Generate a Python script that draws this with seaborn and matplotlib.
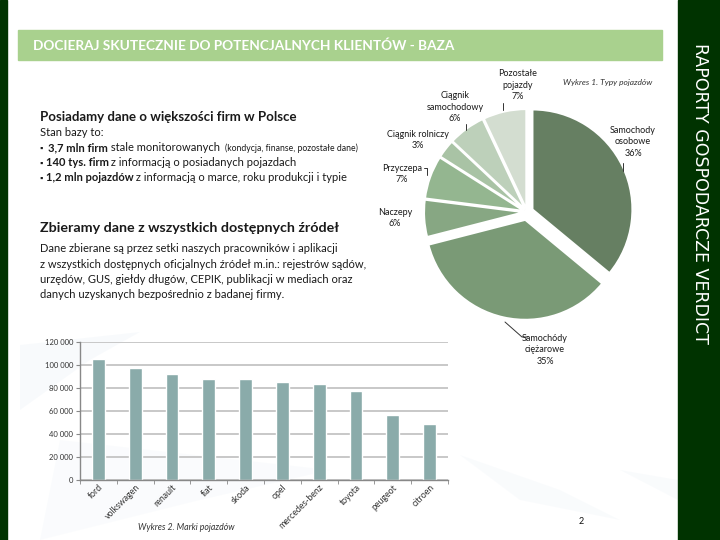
import matplotlib
matplotlib.use("Agg")
import matplotlib.pyplot as plt
import seaborn as sns
import pandas as pd
from matplotlib.patches import Rectangle, Polygon
from matplotlib.lines import Line2D
from matplotlib.ticker import FuncFormatter

# --- data -------------------------------------------------------------
vehicle_types = ["Samochody\nosobowe", "Samochódy\nciężarowe", "Naczepy", "Przyczepa",
                 "Ciągnik rolniczy", "Ciągnik\nsamochodowy", "Pozostałe\npojazdy"]
vehicle_shares = [36, 35, 6, 7, 3, 6, 7]
pie_colors = ["#667f62", "#7a9a76", "#87a783", "#94b690", "#a9c3a5", "#bdd0ba", "#d3ddd0"]

brands = ["ford", "volkswagen", "renault", "fiat", "skoda", "opel",
          "mercedes-benz", "toyota", "peugeot", "citroen"]
brand_counts = [105400, 97500, 92300, 87900, 87900, 85500, 83500, 77400, 56400, 48500]

W, H = 720, 540
FONT = ["Lato", "DejaVu Sans"]

sns.set_style("white")
plt.rcParams["font.family"] = FONT

fig = plt.figure(figsize=(7.2, 5.4), dpi=100)
fig.patch.set_facecolor("white")


def fx(x):
    return x / W


def fy(y):
    return 1 - y / H


def box(x0, y0, x1, y1):
    return [fx(x0), fy(y1), (x1 - x0) / W, (y1 - y0) / H]


# faint background swooshes of the slide template
for pts, a in [([(20, 345), (140, 332), (90, 360), (20, 410)], 0.07),
               ([(60, 440), (330, 470), (200, 500), (40, 540)], 0.05),
               ([(460, 455), (560, 490), (620, 520), (520, 500)], 0.06),
               ([(620, 470), (678, 480), (678, 500)], 0.06)]:
    fig.add_artist(Polygon([(fx(x), fy(y)) for x, y in pts], closed=True,
                           transform=fig.transFigure, color="#a8c0dc", alpha=a,
                           linewidth=0, zorder=0))

# frame strips and header
fig.add_artist(Rectangle((0, 0), fx(7), 1, transform=fig.transFigure, color="#003300", zorder=0))
fig.add_artist(Rectangle((fx(678), 0), 1 - fx(678), 1, transform=fig.transFigure, color="#003300", zorder=0))
fig.add_artist(Rectangle((fx(18), fy(60)), fx(662) - fx(18), fy(30) - fy(60),
                         transform=fig.transFigure, color="#a9d18e", zorder=0))
fig.text(fx(33), fy(46), "DOCIERAJ SKUTECZNIE DO POTENCJALNYCH KLIENTÓW - BAZA",
         color="white", fontsize=9.8, fontweight="bold", va="center")
fig.text(fx(700), fy(193), "RAPORTY GOSPODARCZE VERDICT", color="white", fontsize=12.5,
         rotation=-90, ha="center", va="center", family="DejaVu Sans")

renderer = fig.canvas.get_renderer()


def runs(x, y, parts):
    for s, weight, size in parts:
        t = fig.text(fx(x), fy(y), s, fontsize=size, fontweight=weight, color="#1a1a1a", va="baseline")
        x += t.get_window_extent(renderer).width


# left text block
runs(40, 121, [("Posiadamy dane o większości firm w Polsce", "bold", 9.5)])
runs(40, 136, [("Stan bazy to:", "normal", 8)])
runs(40, 151, [("▪  ", "normal", 6), ("3,7 mln firm", "bold", 8), (" stale monitorowanych  ", "normal", 8),
               ("(kondycja, finanse, pozostałe dane)", "normal", 6.2)])
runs(40, 166, [("▪ ", "normal", 6), ("140 tys. firm", "bold", 8),
               (" z informacją o posiadanych pojazdach", "normal", 8)])
runs(40, 181, [("▪ ", "normal", 6), ("1,2 mln pojazdów", "bold", 8),
               (" z informacją o marce, roku produkcji i typie", "normal", 8)])

runs(40, 232, [("Zbieramy dane z wszystkich dostępnych źródeł", "bold", 10.3)])
para = ["Dane zbierane są przez setki naszych pracowników i aplikacji",
        "z wszystkich dostępnych oficjalnych źródeł m.in.: rejestrów sądów,",
        "urzędów, GUS, giełdy długów, CEPIK, publikacji w mediach oraz",
        "danych uzyskanych bezpośrednio z badanej firmy."]
for i, line in enumerate(para):
    runs(40, 252 + i * 15.5, [(line, "normal", 8)])

# --- pie chart ---------------------------------------------------------
cx, cy, r = 527, 212, 100
pax = fig.add_axes(box(cx - 115, cy - 115, cx + 115, cy + 115))
pax.pie(vehicle_shares, colors=pie_colors, startangle=90, counterclock=False,
        explode=[0.06, 0.08, 0.03, 0.03, 0.03, 0.03, 0.03],
        wedgeprops=dict(edgecolor="white", linewidth=1.5))
pax.set_xlim(-1.15, 1.15)
pax.set_ylim(-1.15, 1.15)
pax.set_aspect("equal")
pax.axis("off")

pct = [f"{v}%" for v in vehicle_shares]
label_pos = [(633, 142), (545, 350), (395, 218), (402, 174), (418, 140), (455, 107), (518, 85)]
for name, p, (lx, ly) in zip(vehicle_types, pct, label_pos):
    fig.text(fx(lx), fy(ly), f"{name}\n{p}", fontsize=6.5, ha="center", va="center",
             color="#1a1a1a", linespacing=1.35)

leaders = [[(623, 163), (623, 171)], [(505, 322), (522, 337), (528, 337)],
           [(424, 168), (427, 168), (427, 175)], [(466, 124), (466, 130)],
           [(503, 103), (503, 110)]]
for pts in leaders:
    xs, ys = zip(*pts)
    fig.add_artist(Line2D([fx(v) for v in xs], [fy(v) for v in ys], transform=fig.transFigure,
                          color="#333333", linewidth=0.7))

fig.text(fx(608), fy(83), "Wykres 1. Typy pojazdów", fontsize=6, style="italic",
         ha="center", va="center", color="#333333")

# --- bar chart ---------------------------------------------------------
bar_df = pd.DataFrame({"marka": brands, "liczba": brand_counts})
bax = fig.add_axes(box(80, 342, 448, 480))
bax.patch.set_alpha(0)
sns.barplot(data=bar_df, x="marka", y="liczba", color="#8aabaa", saturation=1, width=0.35, ax=bax)
bax.set_ylim(0, 120000)
bax.set_xlim(-0.47, 9.5)
bax.set_yticks(range(0, 120001, 20000))
bax.yaxis.set_major_formatter(FuncFormatter(lambda v, _: f"{int(v):,}".replace(",", " ")))
bax.yaxis.grid(True, color="#c4c4c4", linewidth=1.3)
bax.set_axisbelow(True)
for s in ["top", "right"]:
    bax.spines[s].set_visible(False)
for s in ["left", "bottom"]:
    bax.spines[s].set_color("#888888")
    bax.spines[s].set_linewidth(1)
bax.tick_params(axis="y", labelsize=5.5, length=3, color="#888888", left=True, labelcolor="#333333", pad=2)
bax.tick_params(axis="x", labelsize=6.3, length=0, labelcolor="#333333", pad=2)
bax.set_xticks(range(len(brands)))
bax.set_xticklabels(brands, rotation=45, ha="right", rotation_mode="anchor")
bax.set_xticks([i + 0.5 for i in range(-1, len(brands))], minor=True)
bax.tick_params(axis="x", which="minor", length=3, color="#888888", bottom=True)
bax.set_xlabel("")
bax.set_ylabel("")

fig.text(fx(186), fy(528), "Wykres 2. Marki pojazdów", fontsize=6.3, style="italic",
         ha="center", va="center", color="#333333")
fig.text(fx(581), fy(521), "2", fontsize=6.5, ha="center", va="center", color="#111111")

fig.savefig("out.png", dpi=100)
